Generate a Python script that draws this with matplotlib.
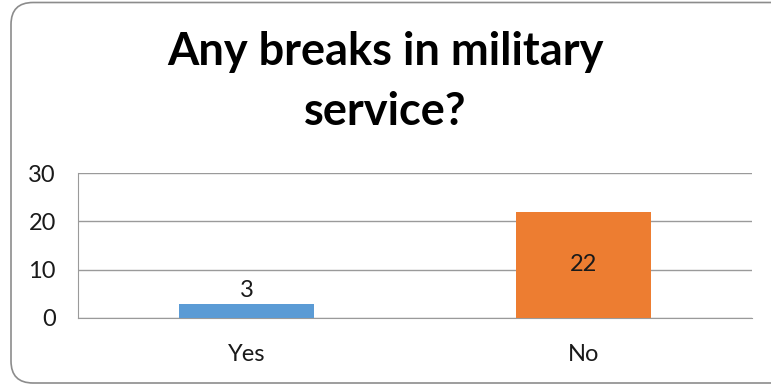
import matplotlib.pyplot as plt
from matplotlib.patches import FancyBboxPatch

# survey answers
answers = ["Yes", "No"]
counts = [3, 22]
bar_colors = ["#5B9BD5", "#ED7D31"]
yticks = [0, 10, 20, 30]
title = "Any breaks in military\nservice?"

plt.rcParams['font.family'] = ['Lato', 'DejaVu Sans']

fig = plt.figure(figsize=(7.71, 3.85), dpi=100)

# rounded chart frame drawn in pixel units on a background axes
bg = fig.add_axes([0, 0, 1, 1])
bg.set_xlim(0, 771)
bg.set_ylim(0, 385)
bg.axis('off')
frame = FancyBboxPatch((11, 2), 790, 380.5, boxstyle="round,pad=0,rounding_size=22",
                       facecolor='white', edgecolor='#8c8c8c', linewidth=1.2)
bg.add_patch(frame)

ax = fig.add_axes([78 / 771, 1 - 318 / 385, (752 - 78) / 771, (318 - 173) / 385])
ax.set_facecolor('none')
x = list(range(len(answers)))
bars = ax.bar(x, counts, width=0.4, color=bar_colors, zorder=3)
ax.set_xlim(-0.5, len(answers) - 0.5)
ax.set_ylim(0, 30)
ax.set_yticks(yticks)
ax.set_xticks(x)
ax.set_xticklabels(answers)
ax.yaxis.grid(True, color='#9a9a9a', linewidth=1.0, zorder=0)
for s in ['top', 'right']:
    ax.spines[s].set_visible(False)
ax.spines['left'].set_color('#9a9a9a')
ax.spines['bottom'].set_color('#9a9a9a')
ax.tick_params(axis='both', length=0, labelsize=17, colors='#1a1a1a')
ax.tick_params(axis='y', pad=16)
ax.tick_params(axis='x', pad=19)

# value labels: small bar gets its label above, tall bar inside
for i, v in enumerate(counts):
    if v < 10:
        ax.text(i, v + 0.6, str(v), ha='center', va='bottom', fontsize=17, color='#1a1a1a')
    else:
        ax.text(i, v / 2, str(v), ha='center', va='center', fontsize=17, color='#1a1a1a')

fig.text(0.5, 1 - 82 / 385, title, ha='center', va='center', fontsize=32.5,
         fontweight='bold', linespacing=1.55, color='black')

fig.savefig('out.png', dpi=100)
